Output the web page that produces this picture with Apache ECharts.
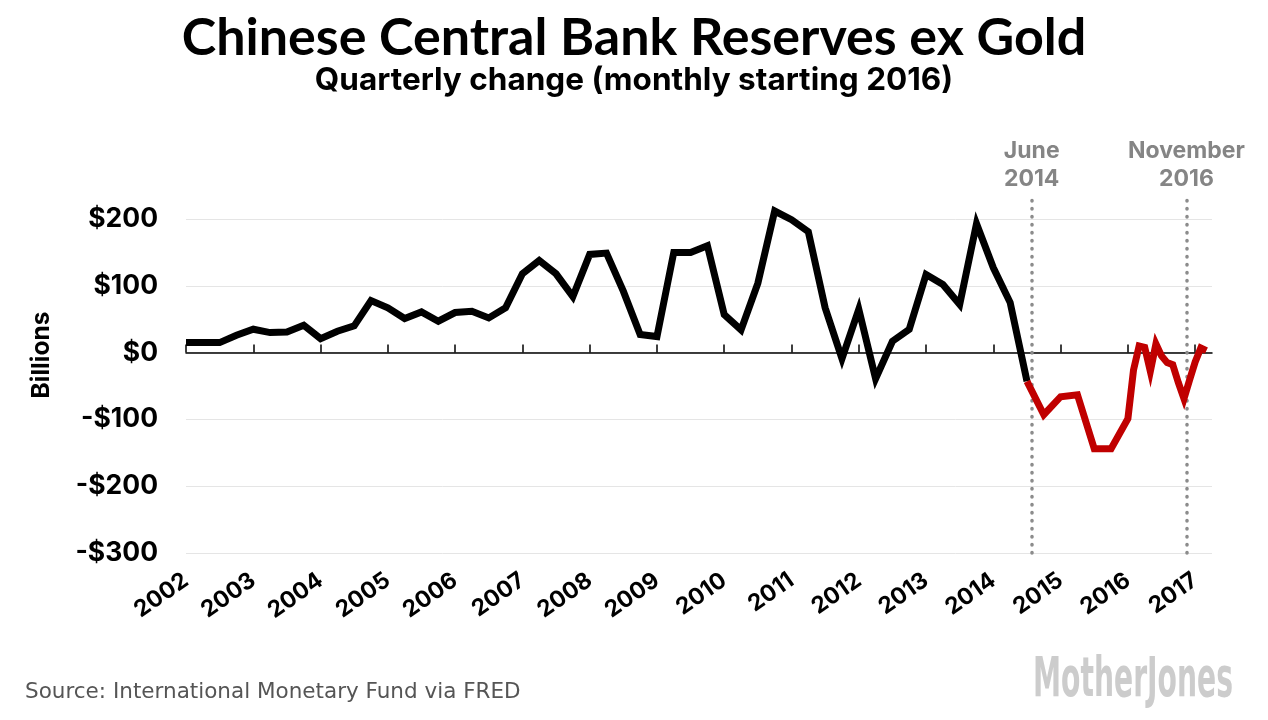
<!DOCTYPE html>
<html>
<head>
<meta charset="utf-8">
<style>
  html, body { margin: 0; padding: 0; background: #ffffff; }
  #chart { width: 1268px; height: 720px; }
</style>
<script src="https://cdn.jsdelivr.net/npm/echarts@6/dist/echarts.min.js"></script>
</head>
<body>
<div id="chart"></div>
<script>
// Quarterly change, billions USD, starting 2002 Q1 (black part, through 2014 Q3)
const blackQuarterly = [
  15, 15, 15, 26,     // 2002
  35, 30, 31, 41,     // 2003
  21, 32, 40, 78,     // 2004
  67, 51, 61, 47,     // 2005
  60, 62, 52, 67,     // 2006
  118, 138, 118, 84,  // 2007
  147, 149, 92, 27,   // 2008
  24, 150, 150, 160,  // 2009
  57, 34, 104, 212,   // 2010
  199, 181, 67, -9,   // 2011
  65, -39, 17, 35,    // 2012
  117, 102, 72, 193,  // 2013
  127, 75, -43        // 2014 Q1-Q3
];
// Red part: quarterly from 2014 Q3 through 2015 Q4
const redQuarterlyStart = 2014.5;
const redQuarterly = [-43, -93, -66, -63, -144, -144];
// Monthly change from January 2016 through March 2017
const monthlyStart = 2016;
const redMonthly = [-99, -26, 10, 8, -28, 13, -5, -15, -18, -45, -69, -41, -14, 7, 3];
const yearTicks = [2002, 2003, 2004, 2005, 2006, 2007, 2008, 2009, 2010, 2011, 2012, 2013, 2014, 2015, 2016, 2017];
const yTickValues = [-300, -200, -100, 0, 100, 200];
const markers = [
  { x: 2014.565, label: 'June\n2014' },
  { x: 2016.87, label: 'November\n2016' }
];

const blackData = blackQuarterly.map((v, i) => [2002 + i * 0.25, v]);
const redData = redQuarterly.map((v, i) => [redQuarterlyStart + i * 0.25, v])
  .concat(redMonthly.map((v, i) => [monthlyStart + i / 12, v]));

const TITLE_FONT = 'Lato, "Open Sans", sans-serif';
const BOLD = 'Inter, Lato, sans-serif';

const chart = echarts.init(document.getElementById('chart'));
chart.setOption({
  animation: false,
  backgroundColor: '#ffffff',
  title: [
    {
      text: 'Chinese Central Bank Reserves ex Gold',
      left: 'center', top: 7,
      textStyle: { fontFamily: TITLE_FONT, fontWeight: 'bold', fontSize: 52, color: '#000' }
    },
    {
      text: 'Quarterly change (monthly starting 2016)',
      left: 'center', top: 60,
      textStyle: { fontFamily: BOLD, fontWeight: 'bold', fontSize: 31.5, color: '#000' }
    }
  ],
  grid: { left: 186, right: 56, top: 199, bottom: 167, containLabel: false },
  xAxis: [
    {
      type: 'value', min: 2002, max: 2017.25, interval: 1, position: 'bottom',
      axisLine: { show: true, onZero: true, lineStyle: { color: '#000', width: 1.5 } },
      axisTick: { show: true, inside: true, length: 8, customValues: yearTicks, lineStyle: { color: '#000', width: 1.5 } },
      axisLabel: { show: false },
      splitLine: { show: false }
    },
    {
      type: 'value', min: 2002, max: 2017.25, interval: 1, position: 'bottom',
      axisLine: { show: false, onZero: false },
      axisTick: { show: false },
      splitLine: { show: false },
      axisLabel: {
        show: true, customValues: yearTicks, rotate: 35, margin: 25,
        fontFamily: BOLD, fontWeight: 'bold', fontSize: 23, color: '#000',
        formatter: v => String(Math.round(v))
      }
    }
  ],
  yAxis: {
    type: 'value', min: -300, max: 230, interval: 100,
    axisLine: { show: false },
    axisTick: { show: false },
    splitLine: { show: true, showMaxLine: false, lineStyle: { color: '#e5e5e5', width: 1 } },
    axisLabel: {
      showMaxLabel: false, margin: 28,
      fontFamily: BOLD, fontWeight: 'bold', fontSize: 26.5, color: '#000',
      formatter: v => (yTickValues.indexOf(v) < 0 ? '' : (v < 0 ? '-$' + Math.abs(v) : '$' + v))
    }
  },
  series: [
    {
      type: 'line', data: blackData, xAxisIndex: 0, showSymbol: false, silent: true,
      lineStyle: { color: '#000', width: 7, join: 'miter' }, z: 3
    },
    {
      type: 'line', data: redData, xAxisIndex: 0, showSymbol: false, silent: true,
      lineStyle: { color: '#c00000', width: 7, join: 'miter' }, z: 3,
      markLine: {
        silent: true, symbol: 'none', z: 2,
        lineStyle: { color: '#8c8c8c', type: [0.5, 7.5], width: 3.5, cap: 'round' },
        label: {
          show: true, position: 'end', distance: 6,
          fontFamily: BOLD, fontWeight: 'bold', fontSize: 23, lineHeight: 28, color: '#858585',
          formatter: p => p.name
        },
        data: markers.map(m => ({ name: m.label, xAxis: m.x }))
      }
    }
  ],
  graphic: [
    {
      type: 'text', x: 42, y: 355, rotation: Math.PI / 2,
      style: { text: 'Billions', fontFamily: BOLD, fontWeight: 'bold', fontSize: 24.5, fill: '#000', align: 'center', verticalAlign: 'middle' }
    },
    {
      type: 'text', x: 25, y: 692,
      style: { text: 'Source: International Monetary Fund via FRED', fontFamily: '"DejaVu Sans", Verdana, sans-serif', fontSize: 21.5, fill: '#555', verticalAlign: 'middle' }
    },
    {
      type: 'text', x: 1033, y: 681, scaleX: 0.56, originX: 0, originY: 0,
      style: { text: 'MotherJones', fontFamily: '"Liberation Sans Narrow", "DejaVu Sans Condensed", sans-serif', fontWeight: 'bold', fontSize: 56, fill: '#cccccc', verticalAlign: 'middle' }
    }
  ]
});
</script>
</body>
</html>
